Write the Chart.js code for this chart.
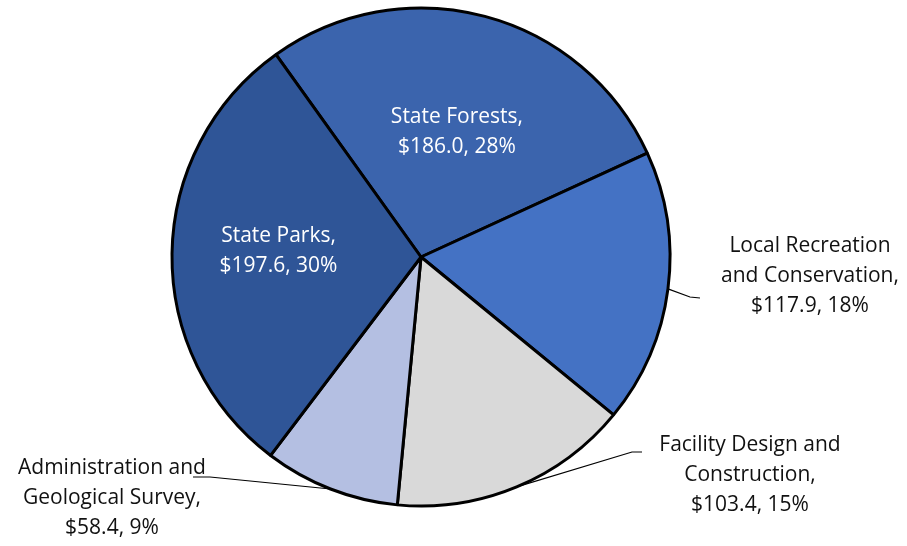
<!DOCTYPE html>
<html>
<head>
<meta charset="utf-8">
<script src="https://cdn.jsdelivr.net/npm/chart.js@4.4.1/dist/chart.umd.min.js"></script>
<style>
  html, body { margin: 0; padding: 0; background: #fff; }
  #wrap { width: 907px; height: 546px; position: relative; }
</style>
</head>
<body>
<div id="wrap"><canvas id="myChart"></canvas></div>
<script>
// budget by program, $ millions (clockwise from the top-left edge)
const categories = [
  ['State Forests,'],
  ['Local Recreation', 'and Conservation,'],
  ['Facility Design and', 'Construction,'],
  ['Administration and', 'Geological Survey,'],
  ['State Parks,'],
];
const amounts = [186.0, 117.9, 103.4, 58.4, 197.6];
const percents = [28, 18, 15, 9, 30];

const SLICE_COLORS = ['#3b64ad', '#4472c4', '#d9d9d9', '#b4bfe2', '#2f5597'];
const TEXT_COLORS = ['#ffffff', '#111111', '#111111', '#111111', '#ffffff'];
const FONT = '21px "Open Sans", "Noto Sans", sans-serif';
const LINE_HEIGHT = 30;

// where each label goes: inside ones are offsets from the slice centre,
// outside ones get a leader line from the slice edge
const LABEL_LAYOUT = [
  {inside: true, dx: 4, dy: -5},
  {inside: false, x: 810, y: 246, elbow: [690, 297], end: [700, 298]},
  {inside: false, x: 750, y: 445, elbow: [632, 452], end: [642, 452]},
  {inside: false, x: 112, y: 468, elbow: [210, 477], end: [193, 477]},
  {inside: true, dx: -18, dy: -4},
];

const sliceLabels = {
  id: 'sliceLabels',
  afterDatasetsDraw(chart) {
    const c = chart.ctx;
    const arcs = chart.getDatasetMeta(0).data;
    c.save();
    c.font = FONT;
    c.textAlign = 'center';
    c.textBaseline = 'middle';
    arcs.forEach((arc, i) => {
      const layout = LABEL_LAYOUT[i];
      const lines = categories[i].concat(['$' + amounts[i].toFixed(1) + ', ' + percents[i] + '%']);
      let x;
      let y;
      if (layout.inside) {
        const pos = arc.tooltipPosition();
        x = pos.x + layout.dx;
        y = pos.y + layout.dy - (lines.length - 1) * LINE_HEIGHT / 2;
      } else {
        const p = arc.getProps(['x', 'y', 'startAngle', 'endAngle', 'outerRadius']);
        const mid = (p.startAngle + p.endAngle) / 2;
        c.beginPath();
        c.strokeStyle = '#000';
        c.lineWidth = 1.2;
        c.moveTo(p.x + Math.cos(mid) * p.outerRadius, p.y + Math.sin(mid) * p.outerRadius);
        c.lineTo(layout.elbow[0], layout.elbow[1]);
        c.lineTo(layout.end[0], layout.end[1]);
        c.stroke();
        x = layout.x;
        y = layout.y;
      }
      c.fillStyle = TEXT_COLORS[i];
      lines.forEach((line, k) => c.fillText(line, x, y + k * LINE_HEIGHT));
    });
    c.restore();
  },
};

new Chart(document.getElementById('myChart'), {
  type: 'pie',
  data: {
    labels: categories,
    datasets: [{
      data: amounts,
      backgroundColor: SLICE_COLORS,
      borderColor: '#000',
      borderWidth: 3,
      radius: 249,
    }],
  },
  options: {
    responsive: true,
    maintainAspectRatio: false,
    animation: false,
    rotation: -35.6,
    layout: {padding: {left: 0, right: 65, top: 0, bottom: 32}},
    plugins: {
      legend: {display: false},
      tooltip: {enabled: false},
    },
  },
  plugins: [sliceLabels],
});
</script>
</body>
</html>
